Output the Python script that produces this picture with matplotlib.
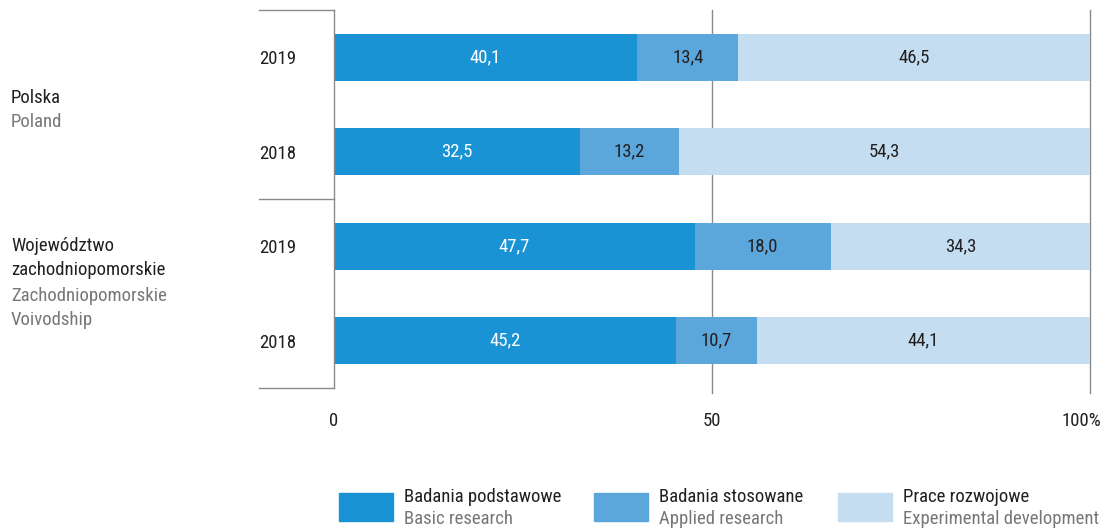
import matplotlib
matplotlib.use("Agg")
import matplotlib.pyplot as plt
import matplotlib.transforms as mtransforms
from matplotlib.patches import Rectangle

plt.rcParams['font.family'] = ['Roboto Condensed', 'Archivo Narrow', 'DejaVu Sans']

# dane
years = ['2019', '2018', '2019', '2018']
groups_pl = ['Polska', 'Województwo\nzachodniopomorskie']
groups_en = ['Poland', 'Zachodniopomorskie\nVoivodship']
basic = [40.1, 32.5, 47.7, 45.2]
applied = [13.4, 13.2, 18.0, 10.7]
experimental = [46.5, 54.3, 34.3, 44.1]
series_pl = ['Badania podstawowe', 'Badania stosowane', 'Prace rozwojowe']
series_en = ['Basic research', 'Applied research', 'Experimental development']
xticks = [0, 50, 100]
xticklabels = ['0', '50', '100%']

colors = ['#1993d3', '#5ba7db', '#c5ddf0']
dark = '#231f20'
grey = '#76777a'
line_c = '#8a8a8a'
fs = 13.5

W, H = 1103, 529
fig = plt.figure(figsize=(W / 100, H / 100), dpi=100)
ax = fig.add_axes([334 / W, 1 - 388 / H, (1090 - 334) / W, (388 - 10) / H])

pos = list(range(len(years)))
left = [0] * len(years)
for i, vals in enumerate([basic, applied, experimental]):
    bars = ax.barh(pos, vals, left=left, height=0.5, color=colors[i], zorder=2)
    labs = [('%.1f' % v).replace('.', ',') for v in vals]
    ax.bar_label(bars, labels=labs, label_type='center', fontsize=fs,
                 color='white' if i == 0 else dark)
    left = [a + b for a, b in zip(left, vals)]

ax.set_xlim(0, 100)
ax.set_ylim(3.5, -0.5)

for s in ['top', 'right', 'bottom']:
    ax.spines[s].set_visible(False)
ax.spines['left'].set_color(line_c)
ax.spines['left'].set_linewidth(1)

for x in [50, 100]:
    ax.plot([x, x], [-0.5, 3.55], color=line_c, lw=1, zorder=1, clip_on=False)

# klamry po lewej
for y in [-0.5, 1.5, 3.5]:
    ax.plot([-0.0992, 0], [y, y], color=line_c, lw=1,
            transform=ax.get_yaxis_transform(), clip_on=False)

ax.set_yticks(pos)
ax.set_yticklabels(years, fontsize=fs, color=dark)
ax.tick_params(axis='y', length=0, pad=27)

ax.set_xticks(xticks)
ax.set_xticklabels(xticklabels, fontsize=fs, color=dark)
ax.tick_params(axis='x', length=0, pad=17)
last = ax.get_xticklabels()[-1]
last.set_horizontalalignment('right')
last.set_transform(last.get_transform() +
                   mtransforms.ScaledTranslation(11 / 100, 0, fig.dpi_scale_trans))

# etykiety grup
fig.text(11 / W, 1 - 98 / H, groups_pl[0], fontsize=fs, color=dark, va='center')
fig.text(11 / W, 1 - 122 / H, groups_en[0], fontsize=fs, color=grey, va='center')
fig.text(11 / W, 1 - 258 / H, groups_pl[1], fontsize=fs, color=dark, va='center',
         linespacing=1.4)
fig.text(11 / W, 1 - 308 / H, groups_en[1], fontsize=fs, color=grey, va='center',
         linespacing=1.4)

# legenda
leg_x = [339, 594, 838]
for i in range(3):
    fig.patches.append(Rectangle((leg_x[i] / W, 1 - 521 / H), 54 / W, 28 / H,
                                 transform=fig.transFigure, color=colors[i]))
    fig.text((leg_x[i] + 65) / W, 1 - 497 / H, series_pl[i], fontsize=fs,
             color=dark, va='center')
    fig.text((leg_x[i] + 65) / W, 1 - 519 / H, series_en[i], fontsize=fs,
             color=grey, va='center')

fig.savefig('out.png', dpi=100)
